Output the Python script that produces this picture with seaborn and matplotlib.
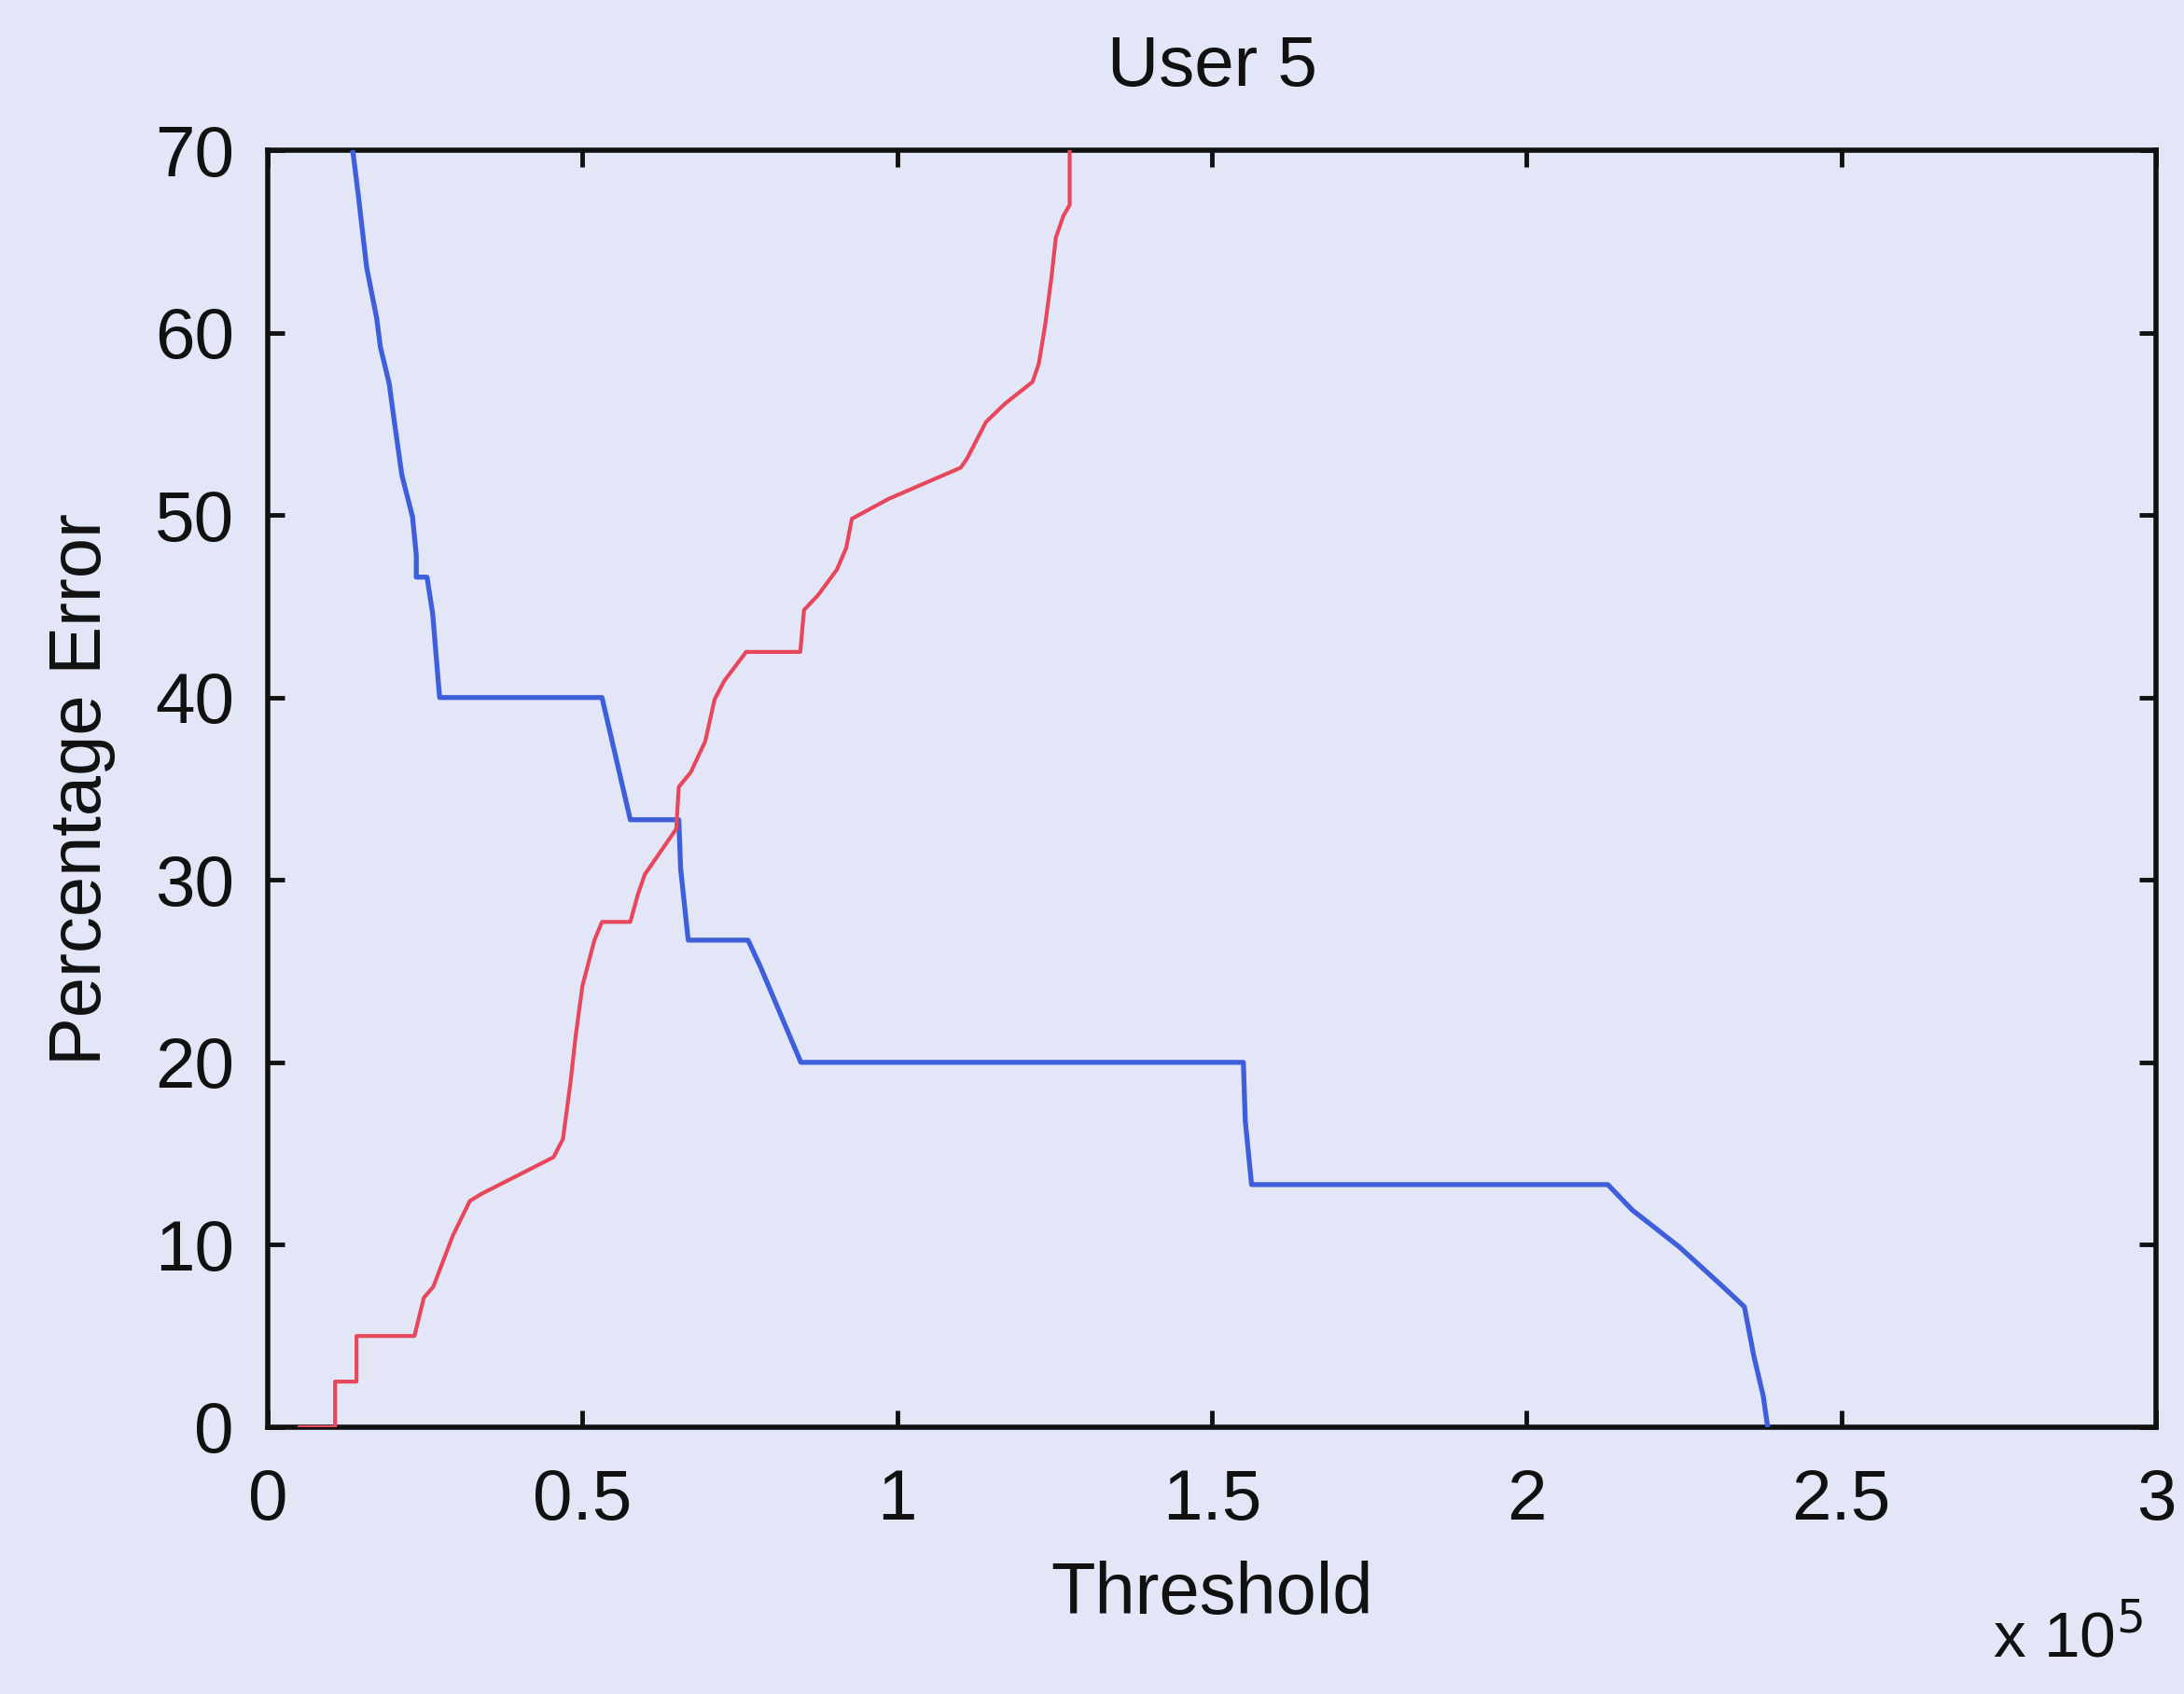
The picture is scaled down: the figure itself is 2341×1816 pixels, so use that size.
import numpy as np
import pandas as pd
import matplotlib
matplotlib.use("Agg")
import matplotlib.pyplot as plt
import seaborn as sns

# Threshold values in units of 1e5
blue_x = [0.135, 0.144, 0.157, 0.173, 0.179, 0.193, 0.200, 0.213, 0.230, 0.236,
          0.236, 0.253, 0.262, 0.273, 0.531, 0.576, 0.653, 0.656, 0.668, 0.763,
          0.782, 0.847, 1.550, 1.553, 1.563, 2.129, 2.168, 2.242, 2.312, 2.346,
          2.361, 2.376, 2.383]
blue_y = [70.0, 67.5, 63.6, 60.8, 59.2, 57.2, 55.4, 52.2, 49.9, 47.8,
          46.6, 46.6, 44.6, 40.0, 40.0, 33.3, 33.3, 30.6, 26.7, 26.7,
          25.3, 20.0, 20.0, 16.8, 13.3, 13.3, 11.9, 9.9, 7.7, 6.6,
          3.9, 1.7, 0.0]

red_x = [0.050, 0.107, 0.107, 0.141, 0.141, 0.233, 0.248, 0.263, 0.294, 0.321,
         0.340, 0.454, 0.469, 0.481, 0.489, 0.500, 0.519, 0.531, 0.576, 0.588,
         0.599, 0.615, 0.649, 0.653, 0.672, 0.695, 0.710, 0.725, 0.760, 0.846,
         0.852, 0.874, 0.904, 0.919, 0.928, 0.987, 1.101, 1.111, 1.141, 1.171,
         1.215, 1.225, 1.235, 1.245, 1.252, 1.264, 1.274, 1.274]
red_y = [0.0, 0.0, 2.5, 2.5, 5.0, 5.0, 7.1, 7.7, 10.5, 12.4,
         12.8, 14.8, 15.8, 18.9, 21.4, 24.2, 26.7, 27.7, 27.7, 29.2,
         30.3, 31.1, 32.8, 35.1, 35.9, 37.6, 39.9, 40.9, 42.5, 42.5,
         44.8, 45.6, 47.0, 48.2, 49.8, 50.9, 52.6, 53.1, 55.1, 56.1,
         57.3, 58.3, 60.4, 63.0, 65.2, 66.4, 67.0, 70.0]

x_ticks = [0, 0.5, 1, 1.5, 2, 2.5, 3]
x_tick_labels = ["0", "0.5", "1", "1.5", "2", "2.5", "3"]
y_ticks = [0, 10, 20, 30, 40, 50, 60, 70]

bg = "#E2E6F6"
ink = "#111111"
sns.set_theme(style="ticks")
plt.rcParams["font.family"] = ["Liberation Sans", "DejaVu Sans"]

fig = plt.figure(figsize=(23.41, 18.16), dpi=100, facecolor=bg)
ax = fig.add_axes([0.1226, 0.1575, 0.8646, 0.7538])
ax.set_facecolor(bg)

blue_df = pd.DataFrame({"x": blue_x, "y": blue_y})
red_df = pd.DataFrame({"x": red_x, "y": red_y})
sns.lineplot(data=blue_df, x="x", y="y", sort=False, estimator=None,
             color="#3F5FDA", linewidth=3.8, ax=ax, zorder=3)
sns.lineplot(data=red_df, x="x", y="y", sort=False, estimator=None,
             color="#E8465A", linewidth=3.0, ax=ax, zorder=3)

ax.set_xlim(0, 3)
ax.set_ylim(0, 70)
ax.set_xticks(x_ticks)
ax.set_xticklabels(x_tick_labels)
ax.set_yticks(y_ticks)

for side in ["left", "right", "top", "bottom"]:
    ax.spines[side].set_visible(True)
    ax.spines[side].set_color(ink)
    ax.spines[side].set_linewidth(4)

ax.tick_params(axis="both", which="major", direction="in", length=13, width=3.5,
               color=ink, labelsize=55, top=True, right=True, labelcolor=ink)
ax.tick_params(axis="x", pad=32)
ax.tick_params(axis="y", pad=26)

ax.set_xlabel("Threshold", fontsize=56, color=ink, labelpad=20)
ax.set_ylabel("Percentage Error", fontsize=56, color=ink, labelpad=30)
ax.set_title("User 5", fontsize=55, color=ink, pad=50)

fig.text(0.981, 0.014, r"x 10$^{5}$", ha="right", va="bottom",
         fontsize=50, color=ink)

fig.savefig("out.png", dpi=100, facecolor=bg)
